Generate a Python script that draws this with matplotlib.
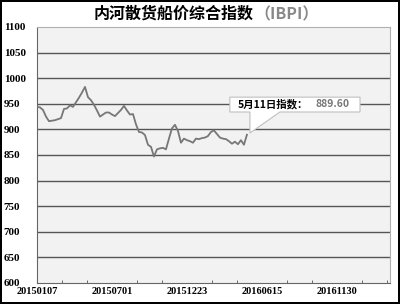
import numpy as np
import matplotlib.pyplot as plt
from matplotlib.patches import Polygon

plt.rcParams['font.family'] = ['Noto Sans CJK SC', 'DejaVu Sans']

# 周数据：从20150107起，每周一个点，到20160511
weeks = list(range(71))
ibpi = [944, 943, 938, 925, 916, 917, 918, 920, 922, 940,
        941, 947, 944, 953, 962, 972, 983, 963, 957, 948,
        937, 925, 929, 933, 933, 929, 926, 932, 938, 946,
        937, 929, 930, 910, 895, 894, 889, 870, 866, 847,
        861, 863, 864, 861, 882, 902, 909, 897, 874, 882,
        879, 877, 874, 882, 881, 883, 884, 887, 895, 898,
        891, 884, 882, 881, 877, 872, 876, 871, 879, 870,
        889.6]
tick_pos = [0, 25, 50, 75, 100]
tick_labels = ['20150107', '20150701', '20151223', '20160615', '20161130']
y_ticks = list(range(600, 1101, 50))

fig = plt.figure(figsize=(4, 3.04), dpi=100)
fig.patch.set_edgecolor('black')
fig.patch.set_linewidth(1.5)
ax = fig.add_axes([37 / 400, 21 / 304, 353 / 400, 256 / 304])
ax.set_facecolor('#f2f2f2')

for v in y_ticks[1:-1]:
    ax.axhline(v, color='#555555', lw=1.0, zorder=1)

ax.plot(weeks, ibpi, color='#777777', lw=1.3, zorder=3)

ax.set_xlim(0, 117.7)
ax.set_ylim(600, 1100)
ax.set_yticks(y_ticks)
ax.set_yticklabels([str(v) for v in y_ticks], fontsize=8, fontweight='bold',
                   family='Liberation Serif')
for t in ax.get_yticklabels():
    t.set_horizontalalignment('left')
ax.tick_params(axis='y', length=0, pad=24)

ax.set_xticks(tick_pos)
ax.set_xticklabels(tick_labels, fontsize=7.5, fontweight='bold', family='Liberation Serif')
ax.set_xticks(np.arange(0, 118, 25 / 3), minor=True)
ax.tick_params(axis='x', which='major', length=0, pad=3)
ax.tick_params(axis='x', which='minor', direction='in', length=2.5, color='#555555')

for s in ['top', 'right']:
    ax.spines[s].set_color('#b0b0b0')
for s in ['left', 'bottom']:
    ax.spines[s].set_color('#666666')

# 标注框
box = Polygon([(64.3, 934), (64.3, 963), (107.7, 963), (107.7, 934), (81, 934),
               (71, 893), (71, 934)], closed=True, facecolor='white',
              edgecolor='#c0c0c0', lw=0.8, zorder=5)
ax.add_patch(box)
ax.text(66.9, 949, '5月11日指数：', fontsize=7.5, fontweight='bold', color='black',
        va='center', ha='left', zorder=6)
ax.text(92.7, 949, '889.60', fontsize=7.5, fontweight='bold', color='#777777',
        va='center', ha='left', zorder=6)

fig.text(254 / 400, 1 - 14 / 304, '内河散货船价综合指数', fontsize=11.5, fontweight='bold',
         ha='right', va='center')
fig.text(254 / 400, 1 - 14 / 304, '（IBPI）', fontsize=11.5, fontweight='bold',
         color='#888888', ha='left', va='center')

fig.savefig('out.png', dpi=100, edgecolor=fig.get_edgecolor())
